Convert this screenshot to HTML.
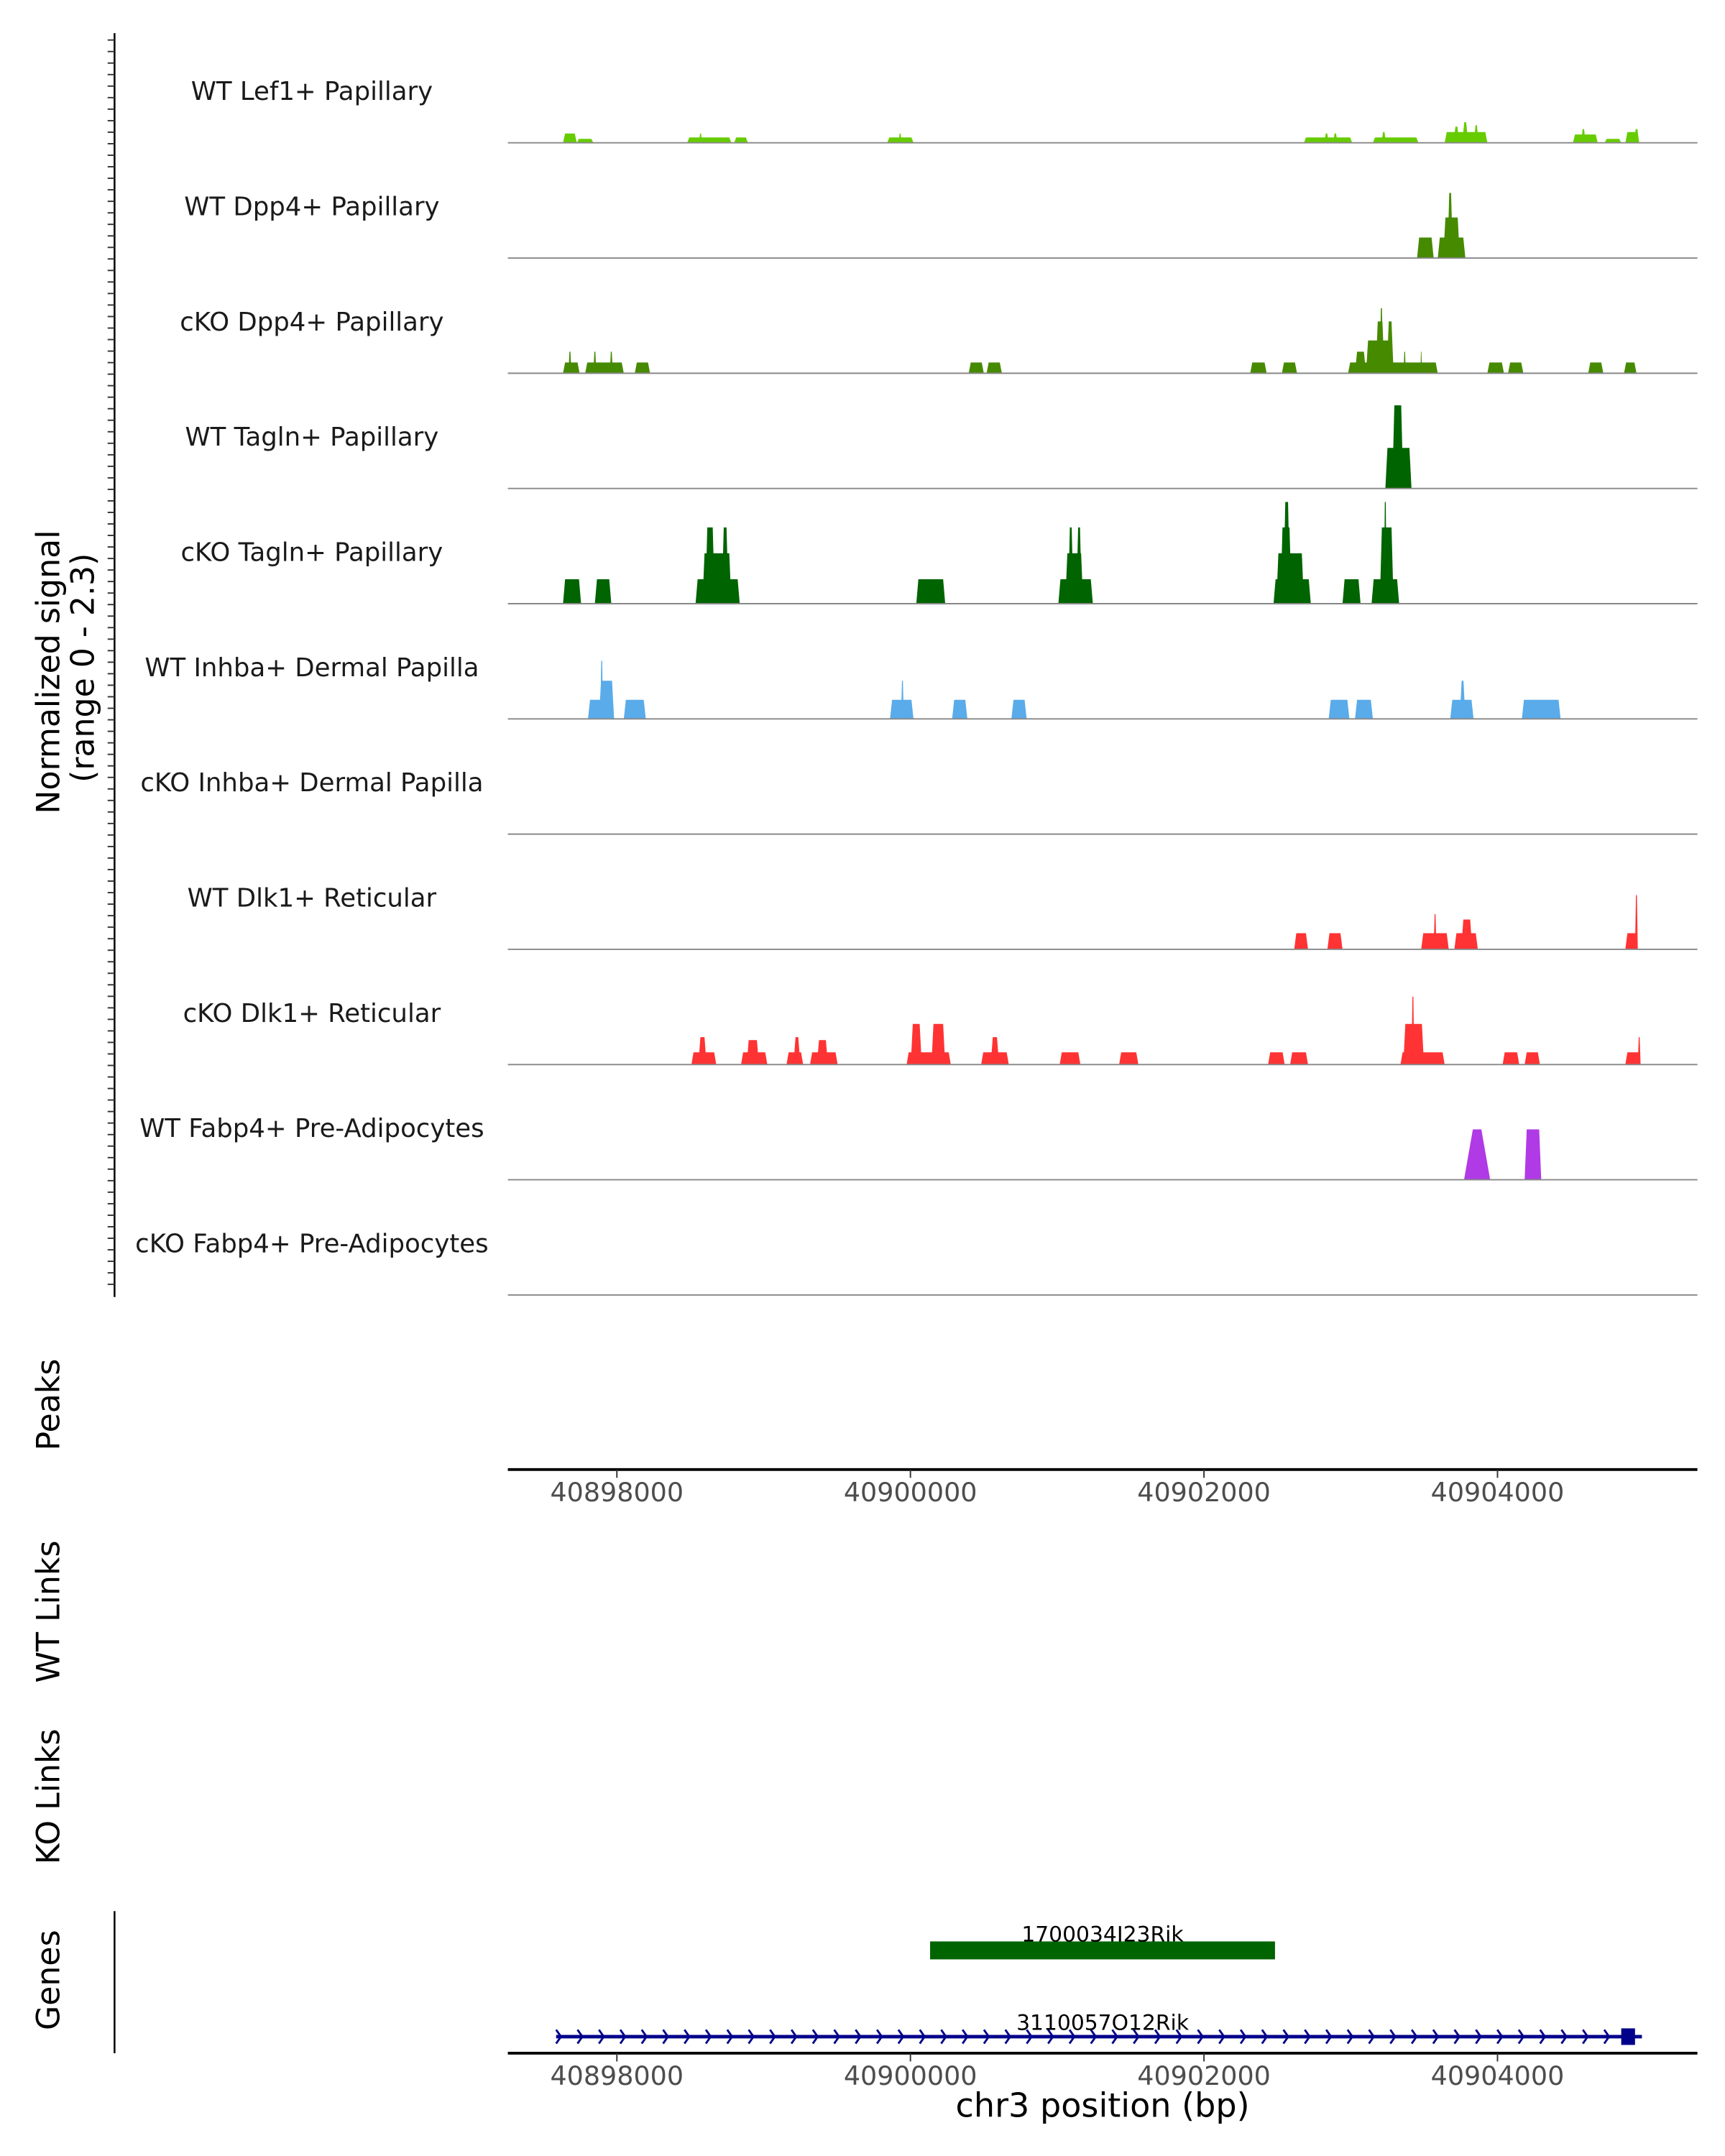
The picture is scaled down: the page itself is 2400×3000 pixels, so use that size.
<!DOCTYPE html>
<html><head><meta charset="utf-8"><style>
html,body{margin:0;padding:0;background:#fff}
svg{display:block;font-family:"DejaVu Sans","Liberation Sans",sans-serif}
</style></head><body>
<svg id="chart" xmlns="http://www.w3.org/2000/svg" width="2400" height="3000" viewBox="0 0 1250 1562.5" preserveAspectRatio="none">
<g id="axes"></g><g id="tracks"></g><g id="genes"></g>
</svg>
<script>
// ---- data ----
const trackNames = ["WT Lef1+ Papillary","WT Dpp4+ Papillary","cKO Dpp4+ Papillary","WT Tagln+ Papillary","cKO Tagln+ Papillary","WT Inhba+ Dermal Papilla","cKO Inhba+ Dermal Papilla","WT Dlk1+ Reticular","cKO Dlk1+ Reticular","WT Fabp4+ Pre-Adipocytes","cKO Fabp4+ Pre-Adipocytes"];
const trackColors = ["#66cc00","#468a00","#468a00","#006400","#006400","#5aabea","#5aabea","#ff3333","#ff3333","#b03ae6","#b03ae6"];
const xTicks = [40898000,40900000,40902000,40904000];
const xTickLabels = ["40898000","40900000","40902000","40904000"];
const xDomain = [40897257,40905362];
const yMax = 2.3;
// segments: [startBp, endBp, signal]
const sigLef1 = [[40897633,40897727,0.19],[40897727,40897840,0.08],[40898479,40898780,0.11],[40898560,40898580,0.19],[40898799,40898893,0.11],[40899842,40900021,0.11],[40899920,40899940,0.19],[40902681,40903010,0.11],[40902820,40902850,0.19],[40902880,40902910,0.19],[40903151,40903461,0.11],[40903210,40903240,0.22],[40903640,40903931,0.22],[40903700,40903740,0.33],[40903760,40903800,0.42],[40903840,40903870,0.36],[40904514,40904683,0.17],[40904570,40904600,0.28],[40904730,40904843,0.08],[40904871,40904965,0.22],[40904930,40904965,0.28]];
const sigWtDpp4 = [[40903452,40903565,0.42],[40903593,40903781,0.42],[40903631,40903743,0.83],[40903659,40903696,1.33]];
const sigKoDpp4 = [[40897633,40897746,0.22],[40897670,40897690,0.44],[40897784,40898047,0.22],[40897840,40897860,0.44],[40897952,40897972,0.44],[40898122,40898226,0.22],[40900397,40900500,0.22],[40900519,40900623,0.22],[40902315,40902427,0.22],[40902531,40902634,0.22],[40902982,40903593,0.22],[40903029,40903104,0.44],[40903104,40903292,0.67],[40903170,40903230,1.06],[40903198,40903220,1.33],[40903245,40903292,1.06],[40903360,40903375,0.44],[40903475,40903485,0.44],[40903931,40904044,0.22],[40904072,40904176,0.22],[40904618,40904721,0.22],[40904862,40904947,0.22]];
const sigWtTagln = [[40903236,40903414,0.83],[40903283,40903358,1.7]];
const sigKoTagln = [[40897633,40897756,0.5],[40897850,40897962,0.5],[40898536,40898837,0.5],[40898583,40898780,1.03],[40898602,40898667,1.56],[40898714,40898761,1.56],[40900040,40900237,0.5],[40901008,40901243,0.5],[40901055,40901177,1.03],[40901074,40901111,1.56],[40901130,40901168,1.56],[40902474,40902728,0.5],[40902493,40902681,1.03],[40902521,40902597,1.56],[40902540,40902587,2.08],[40902944,40903067,0.5],[40903142,40903330,0.5],[40903198,40903292,1.56],[40903226,40903245,2.08]];
const sigWtInhba = [[40897803,40897981,0.39],[40897878,40897981,0.78],[40897887,40897906,1.19],[40898047,40898197,0.39],[40899861,40900021,0.39],[40899936,40899955,0.78],[40900284,40900388,0.39],[40900688,40900792,0.39],[40902850,40902991,0.39],[40903029,40903151,0.39],[40903678,40903837,0.39],[40903743,40903781,0.78],[40904166,40904430,0.39]];
const sigKoInhba = [];
const sigWtDlk1 = [[40902615,40902709,0.33],[40902841,40902944,0.33],[40903480,40903668,0.33],[40903565,40903584,0.72],[40903706,40903866,0.33],[40903753,40903828,0.61],[40904871,40904956,0.33],[40904937,40904956,1.11]];
const sigKoDlk1 = [[40898508,40898677,0.25],[40898555,40898611,0.56],[40898846,40899025,0.25],[40898884,40898968,0.5],[40899156,40899269,0.25],[40899203,40899250,0.56],[40899316,40899504,0.25],[40899363,40899438,0.5],[40899974,40900275,0.25],[40900002,40900077,0.83],[40900143,40900237,0.83],[40900482,40900670,0.25],[40900547,40900604,0.56],[40901017,40901158,0.25],[40901422,40901553,0.25],[40902437,40902550,0.25],[40902587,40902709,0.25],[40903339,40903640,0.25],[40903358,40903499,0.83],[40903414,40903433,1.39],[40904035,40904148,0.25],[40904185,40904289,0.25],[40904871,40904975,0.25],[40904956,40904975,0.56]];
const sigWtFabp4 = [[40903772,40903950,1.03,60],[40904185,40904298,1.03]];
const sigKoFabp4 = [];
const trackSignals = [sigLef1,sigWtDpp4,sigKoDpp4,sigWtTagln,sigKoTagln,sigWtInhba,sigKoInhba,sigWtDlk1,sigKoDlk1,sigWtFabp4,sigKoFabp4];
const gene1 = {name:"1700034I23Rik", start:40900134, end:40902484};
const gene2 = {name:"3110057O12Rik", start:40897586, end:40904984, cdsStart:40904843, cdsEnd:40904937};

// ---- drawing ----
const NS="http://www.w3.org/2000/svg";
const X0=368, X1=1230;
function xs(bp){return X0+(bp-xDomain[0])/(xDomain[1]-xDomain[0])*(X1-X0);}
const trackTop=20, trackH=83.5;
function ys(v,base){return base - v/yMax*(trackH-2);}
function mk(tag,attrs,parent,text){const e=document.createElementNS(NS,tag);for(const k in attrs)e.setAttribute(k,attrs[k]);if(text!==undefined)e.textContent=text;parent.appendChild(e);return e;}
const axes=document.getElementById('axes'), tracks=document.getElementById('tracks'), genes=document.getElementById('genes');

let l=mk('line',{x1:83,y1:24,x2:83,y2:940,stroke:'#000','stroke-width':1.3},axes);


for(let y=29;y<=939;y+=8.35){
  const t=mk('line',{x1:78,y1:y,x2:83,y2:y,stroke:'#333','stroke-width':1},axes);
  
  
}
let yt=mk('text',{transform:'translate(43,487) rotate(-90)','text-anchor':'middle','font-size':23},axes,'Normalized signal');


let yt2=mk('text',{transform:'translate(68,484) rotate(-90)','text-anchor':'middle','font-size':23},axes,'(range 0 - 2.3)');



trackNames.forEach((nm,i)=>{
  const base=trackTop+trackH*(i+1);
  const g=mk('g',{},tracks);
  
  
  const lab=mk('text',{x:226,y:base-31,'text-anchor':'middle','font-size':18.5,fill:'#1a1a1a'},g,nm);
  
  
  trackSignals[i].forEach(s=>{
    const a=xs(s[0]), b=xs(s[1]);
    const sl=s[3]!==undefined? xs(s[0]+s[3])-a : Math.min(1.5,(b-a)/3);
    const h=ys(s[2],base);
    const p=mk('polygon',{points:`${a},${base} ${a+sl},${h} ${b-sl},${h} ${b},${base}`,fill:trackColors[i]},g);
    
    
  });
  const bl=mk('line',{x1:X0,y1:base,x2:X1,y2:base,stroke:'#888','stroke-width':1},g);
  
  
});

function xAxis(y,name){
  const g=mk('g',{},axes);
  
  
  mk('line',{x1:X0,y1:y,x2:X1,y2:y,stroke:'#000','stroke-width':2},g);
  xTicks.forEach((v,k)=>{
    mk('line',{x1:xs(v),y1:y,x2:xs(v),y2:y+6,stroke:'#333','stroke-width':1},g);
    const t=mk('text',{x:xs(v),y:y+23,'text-anchor':'middle','font-size':19,fill:'#4d4d4d'},g,xTickLabels[k]);
    
    
  });
}
xAxis(1065,'peaks-x-axis');
xAxis(1488,'genes-x-axis');
[['Peaks',1018,'peaks-label'],['WT Links',1168,'wt-links-label'],['KO Links',1302,'ko-links-label'],['Genes',1435,'genes-label']].forEach(([t,y,n])=>{
  const e=mk('text',{transform:`translate(43,${y}) rotate(-90)`,'text-anchor':'middle','font-size':23},axes,t);
  
  
});
let xt=mk('text',{x:799,y:1534,'text-anchor':'middle','font-size':24},axes,'chr3 position (bp)');


let gl=mk('line',{x1:83,y1:1385,x2:83,y2:1488,stroke:'#000','stroke-width':1.3},axes);



let r1=mk('rect',{x:xs(gene1.start),y:1407,width:xs(gene1.end)-xs(gene1.start),height:13,fill:'#006400'},genes);


let t1=mk('text',{x:(xs(gene1.start)+xs(gene1.end))/2,y:1407,'text-anchor':'middle','font-size':15.5},genes,gene1.name);


let g2=mk('g',{},genes);


const ga=xs(gene2.start), gb=xs(gene2.end);
mk('line',{x1:ga,y1:1476,x2:gb,y2:1476,stroke:'#00008b','stroke-width':2.5},g2);
for(let x=ga;x<gb;x+=15.5){
  mk('polyline',{points:`${x},1471 ${x+3.5},1476 ${x},1481`,fill:'none',stroke:'#00008b','stroke-width':1.5},g2);
}
mk('rect',{x:xs(gene2.cdsStart),y:1470,width:xs(gene2.cdsEnd)-xs(gene2.cdsStart),height:12,fill:'#00008b'},g2);
let t2=mk('text',{x:799,y:1471,'text-anchor':'middle','font-size':15.5},genes,gene2.name);


</script>
</body></html>
